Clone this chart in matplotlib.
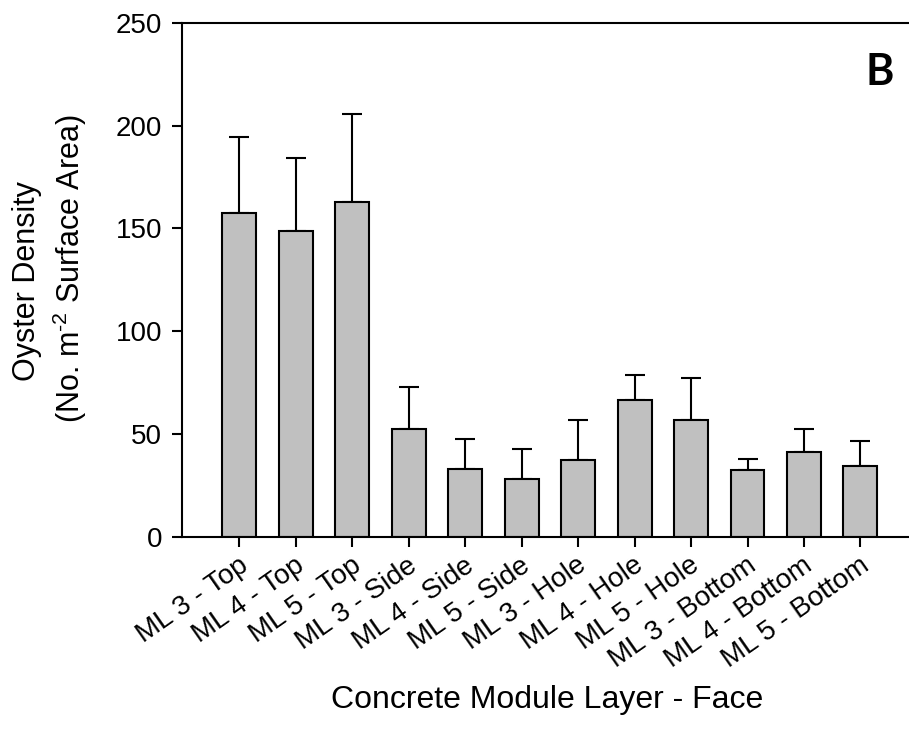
import matplotlib.pyplot as plt
import matplotlib.transforms as mtransforms
import numpy as np

plt.rcParams['font.family'] = ['Liberation Sans', 'DejaVu Sans']
plt.rcParams['mathtext.fontset'] = 'custom'
plt.rcParams['mathtext.rm'] = 'Liberation Sans'

# mean oyster density per layer/face and upper error (SE) values
categories = ['ML 3 - Top', 'ML 4 - Top', 'ML 5 - Top',
              'ML 3 - Side', 'ML 4 - Side', 'ML 5 - Side',
              'ML 3 - Hole', 'ML 4 - Hole', 'ML 5 - Hole',
              'ML 3 - Bottom', 'ML 4 - Bottom', 'ML 5 - Bottom']
density = [157.3, 148.9, 162.6, 52.5, 32.9, 28.3, 37.2, 66.7, 56.9, 32.5, 41.0, 34.4]
err_top = [194.5, 184.1, 205.8, 73.0, 47.3, 42.6, 56.9, 78.7, 77.2, 37.8, 52.2, 46.4]

density = np.array(density)
err = np.array(err_top) - density

fig = plt.figure(figsize=(9.09, 7.42), dpi=100)
ax = fig.add_axes([181.7 / 909, 0.2767, 1.0 - 181.7 / 909, 0.9694 - 0.2767])

x = np.arange(len(categories))
ax.bar(x, density, width=0.6, color='#c0c0c0', edgecolor='black', linewidth=1.5, zorder=2)
ax.errorbar(x, density, yerr=[np.zeros_like(err), err], fmt='none', ecolor='black',
            elinewidth=1.5, capsize=7, capthick=1.5, zorder=1)

ax.set_xlim(-1.02, 11.86)
ax.set_ylim(0, 250)
ax.set_yticks([0, 50, 100, 150, 200, 250])
ax.set_xticks(x)
ax.set_xticklabels(categories, rotation=35, ha='right', va='center', rotation_mode='anchor')

for s in ['left', 'bottom', 'top']:
    ax.spines[s].set_linewidth(1.5)
ax.spines['right'].set_visible(False)
ax.tick_params(axis='both', direction='out', length=7, width=1.5)
ax.tick_params(axis='y', labelsize=20, pad=7)
ax.tick_params(axis='x', labelsize=20, pad=12)

# nudge rotated labels a little to the right of their ticks
shift = mtransforms.ScaledTranslation(6 / 100, 0, fig.dpi_scale_trans)
for lbl in ax.get_xticklabels():
    lbl.set_transform(lbl.get_transform() + shift)

fig.text(27 / 909, 1 - 281 / 742, 'Oyster Density', rotation=90, ha='center', va='center', fontsize=22)
fig.text(70 / 909, 1 - 269 / 742, '(No. m$^{\\text{-2}}$ Surface Area)', rotation=90, ha='center',
         va='center', fontsize=22)
fig.text(547 / 909, 1 - 700 / 742, 'Concrete Module Layer - Face', ha='center', va='center', fontsize=23)

ax.text(0.960, 0.905, 'B', transform=ax.transAxes, ha='center', va='center',
        fontsize=31, fontweight='bold', family=['Lato', 'DejaVu Sans'])

fig.savefig('out.png', dpi=100)
